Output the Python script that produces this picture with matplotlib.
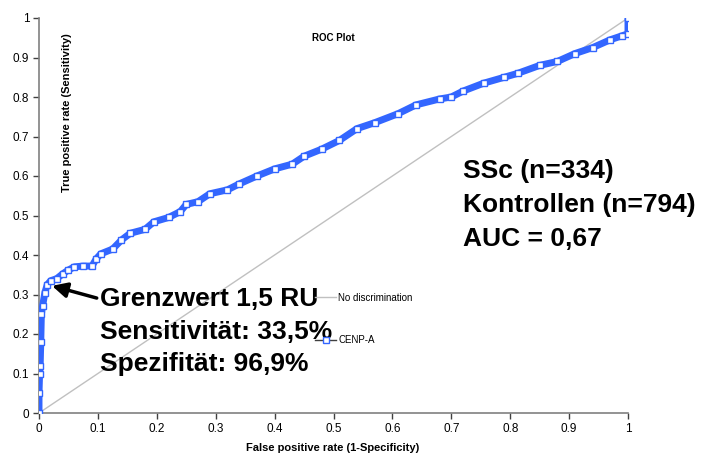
import matplotlib.pyplot as plt
from matplotlib.lines import Line2D

plt.rcParams['font.family'] = ['Liberation Sans', 'DejaVu Sans']

# ROC curve
fpr = [0.000, 0.000, 0.001, 0.002, 0.003, 0.004, 0.006, 0.010, 0.014, 0.020,
       0.030, 0.040, 0.050, 0.060, 0.075, 0.090, 0.097, 0.105, 0.125, 0.140,
       0.155, 0.180, 0.195, 0.220, 0.240, 0.250, 0.270, 0.290, 0.320, 0.340,
       0.370, 0.400, 0.430, 0.450, 0.480, 0.510, 0.540, 0.570, 0.610, 0.640,
       0.680, 0.700, 0.720, 0.755, 0.790, 0.813, 0.850, 0.880, 0.910, 0.940,
       0.970, 0.990, 1.000, 1.000]
tpr = [0.000, 0.050, 0.100, 0.120, 0.180, 0.250, 0.270, 0.305, 0.325, 0.335,
       0.340, 0.352, 0.362, 0.370, 0.372, 0.372, 0.390, 0.403, 0.415, 0.438,
       0.455, 0.465, 0.484, 0.495, 0.510, 0.528, 0.535, 0.555, 0.565, 0.580,
       0.600, 0.618, 0.630, 0.650, 0.668, 0.690, 0.720, 0.735, 0.758, 0.780,
       0.795, 0.800, 0.815, 0.835, 0.850, 0.860, 0.880, 0.890, 0.910, 0.925,
       0.945, 0.955, 0.960, 1.000]

diag = [0, 1]
ticks = [0, 0.1, 0.2, 0.3, 0.4, 0.5, 0.6, 0.7, 0.8, 0.9, 1]
tick_labels = ['0', '0.1', '0.2', '0.3', '0.4', '0.5', '0.6', '0.7', '0.8', '0.9', '1']

cutoff_xy = (0.022, 0.322)
cutoff_text = 'Grenzwert 1,5 RU\nSensitivität: 33,5%\nSpezifität: 96,9%'
summary_text = 'SSc (n=334)\nKontrollen (n=794)\nAUC = 0,67'

blue = '#3366ff'

fig = plt.figure(figsize=(7.13, 4.57), dpi=100)
ax = fig.add_axes([39 / 713, 44 / 457, 589 / 713, 395 / 457])

ax.plot(diag, diag, color='#c0c0c0', lw=1)
ax.plot(fpr, tpr, color=blue, lw=5, solid_capstyle='butt', zorder=3)
ax.plot(fpr, tpr, ls='none', marker='s', markersize=4.5, mfc='white',
        mec=blue, mew=1, zorder=4)

ax.set_xlim(0, 1)
ax.set_ylim(0, 1)
ax.set_xticks(ticks)
ax.set_xticklabels(tick_labels)
ax.set_yticks(ticks)
ax.set_yticklabels(tick_labels)
ax.tick_params(direction='out', length=4, width=1, color='#404040',
               labelsize=8.5, pad=3)
for s in ['top', 'right']:
    ax.spines[s].set_visible(False)
for s in ['left', 'bottom']:
    ax.spines[s].set_color('#808080')
    ax.spines[s].set_linewidth(1.2)
    ax.spines[s].set_clip_on(False)

ax.text(0.5, 0.95, 'ROC Plot', transform=ax.transAxes, ha='center',
        va='center', fontsize=7, fontweight='bold')
ax.text(0.048, 0.76, 'True positive rate (Sensitivity)', transform=ax.transAxes,
        rotation=90, ha='center', va='center', fontsize=8, fontweight='bold')
fig.text(333 / 713, 1 - 448 / 457, 'False positive rate (1-Specificity)',
         ha='center', va='center', fontsize=8, fontweight='bold')

handles = [
    Line2D([], [], color='#c0c0c0', lw=1),
    Line2D([], [], color='#404040', lw=1, marker='s', markersize=4.5,
           mfc='white', mec=blue),
]
ax.legend(handles, ['No discrimination', 'CENP-A'], loc='upper left',
          bbox_to_anchor=(310 / 713, 1 - 288 / 457),
          bbox_transform=fig.transFigure, frameon=False, fontsize=7,
          handlelength=2.2, handletextpad=0.2, labelspacing=3.3,
          borderpad=0)

ax.annotate('', xy=cutoff_xy, xytext=(0.098, 0.291),
            arrowprops=dict(arrowstyle='-|>,head_length=0.9,head_width=0.45',
                            color='black', lw=2.5, shrinkA=0, shrinkB=0))
ax.text(0.104, 0.32, cutoff_text, ha='left', va='top', fontsize=19,
        fontweight='bold', linespacing=1.47)
ax.text(0.72, 0.643, summary_text, ha='left', va='top', fontsize=19,
        fontweight='bold', linespacing=1.52)

fig.savefig('out.png', dpi=100)
